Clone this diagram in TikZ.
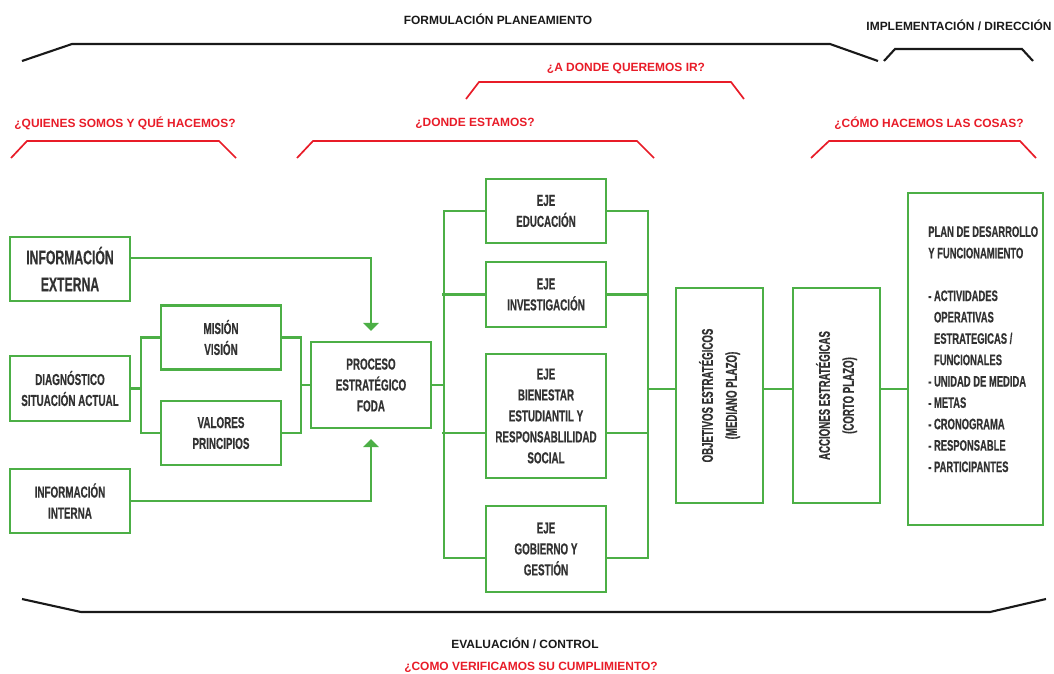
\documentclass[tikz,border=0pt]{standalone}
\usepackage{fontspec}
\setmainfont{Liberation Sans}
\newfontfamily\condfont[FakeStretch=0.62,FakeBold=0.5]{Liberation Sans}
\usetikzlibrary{arrows.meta}

\definecolor{boxgreen}{RGB}{76,175,70}
\definecolor{askred}{RGB}{232,28,40}
\definecolor{boxtext}{RGB}{50,50,50}

\begin{document}
\begin{tikzpicture}[x=0.025cm,y=-0.025cm,
  box/.style={draw=boxgreen, line width=1.5pt, text=boxtext, align=center,
    minimum width=3cm, minimum height=1.6cm, inner sep=2pt,
    font=\condfont\bfseries\fontsize{11.3}{14.9}\selectfont},
  sidetext/.style={rotate=90, align=center, text=boxtext, inner sep=0pt,
    font=\condfont\bfseries\fontsize{11.1}{17}\selectfont},
  listtext/.style={align=left, text=boxtext, inner sep=0pt,
    font=\condfont\bfseries\fontsize{10.8}{15.2}\selectfont},
  link/.style={draw=boxgreen, line width=1.5pt},
  feed/.style={link, -{Triangle[length=0.2cm,width=0.38cm]}, shorten >=0.25cm},
  phase/.style={font=\bfseries\fontsize{8.5}{10}\selectfont, text=black!90},
  ask/.style={font=\bfseries\fontsize{8.5}{10}\selectfont, text=askred},
  brace/.style={black!90, line width=1.5pt},
  askbrace/.style={askred, line width=1.2pt}]

\useasboundingbox (0,0) rectangle (1054,673);

\node[phase] (formul) at (498,19) {FORMULACIÓN PLANEAMIENTO};
\node[phase] (implem) at (959,25) {IMPLEMENTACIÓN / DIRECCIÓN};
\draw[brace] (22,61) -- (72,44) -- (830,44) -- (878,61);
\draw[brace] (884,61) -- (895,49) -- (1022,49) -- (1033,61);

\node[ask] (adonde) at (626,68) {¿A DONDE QUEREMOS IR?};
\draw[askbrace] (466,99) -- (479,82) -- (731,82) -- (744,99);
\node[ask] (quienes) at (125,123) {¿QUIENES SOMOS Y QUÉ HACEMOS?};
\draw[askbrace] (11,158) -- (27,141) -- (219,141) -- (236,158);
\node[ask] (estamos) at (475,123) {¿DONDE ESTAMOS?};
\draw[askbrace] (297,158) -- (313,141) -- (637,141) -- (654,158);
\node[ask] (como) at (929,123) {¿CÓMO HACEMOS LAS COSAS?};
\draw[askbrace] (811,158) -- (829,141) -- (1020,141) -- (1036,158);

\node[box, font=\condfont\bfseries\fontsize{14}{19.2}\selectfont] (infoext) at (70,269) {INFORMACIÓN\\EXTERNA};
\node[box, minimum height=1.625cm] (diag) at (70,388.5) {DIAGNÓSTICO\\SITUACIÓN ACTUAL};
\node[box] (infoint) at (70,501) {INFORMACIÓN\\INTERNA};
\node[box] (mision) at (221,337.5) {MISIÓN\\VISIÓN};
\node[box] (valores) at (221,433) {VALORES\\PRINCIPIOS};
\node[box, minimum height=2.15cm] (proceso) at (371,385) {PROCESO\\ESTRATÉGICO\\FODA};

\node[box] (edu) at (546,211) {EJE\\EDUCACIÓN};
\node[box, minimum height=1.625cm] (inv) at (546,294.5) {EJE\\INVESTIGACIÓN};
\node[box, minimum height=3.1cm] (bien) at (546,416) {EJE\\BIENESTAR\\ESTUDIANTIL Y\\RESPONSABLILIDAD\\SOCIAL};
\node[box, minimum height=2.15cm] (gob) at (546,549) {EJE\\GOBIERNO Y\\GESTIÓN};

\node[box, minimum width=2.175cm, minimum height=5.375cm] (objetivos) at (719.5,395.5) {};
\node[sidetext] (objtext) at (objetivos.center) {OBJETIVOS ESTRATÉGICOS\\(MEDIANO PLAZO)};
\node[box, minimum width=2.175cm, minimum height=5.375cm] (acciones) at (836.5,395.5) {};
\node[sidetext] (acctext) at (acciones.center) {ACCIONES ESTRATÉGICAS\\(CORTO PLAZO)};

\node[box, minimum width=3.375cm, minimum height=8.3cm] (plan) at (975.5,359) {};
\node[listtext, anchor=north west] (plantext) at (928,226) {PLAN DE DESARROLLO\\
Y FUNCIONAMIENTO\\[15.2pt]
- ACTIVIDADES\\
\phantom{-\ }OPERATIVAS\\
\phantom{-\ }ESTRATEGICAS /\\
\phantom{-\ }FUNCIONALES\\
- UNIDAD DE MEDIDA\\
- METAS\\
- CRONOGRAMA\\
- RESPONSABLE\\
- PARTICIPANTES};

\coordinate (ejebus) at (648,389);

\draw[feed] ([yshift=0.275cm]infoext.east) -| (proceso.north);
\draw[feed] (infoint.east) -| (proceso.south);
\draw[link] (diag.east) -- ++(10,0);
\draw[link] (mision.west) -| ([xshift=0.25cm]diag.east) |- (valores.west);
\draw[link] (mision.east) -| ([xshift=-0.225cm]proceso.west) |- (valores.east);
\draw[link] (proceso.west) -- ++(-9,0);

\draw[link] (proceso.east) -- ++(12,0);
\draw[link] (edu.west) -| ([xshift=0.3cm]proceso.east) |- ([yshift=-0.225cm]gob.west);
\draw[link] (inv.west) -- ++(-43,0);
\draw[link] ([yshift=-0.425cm]bien.west) -- ++(-43,0);

\draw[link] (edu.east) -| (ejebus) |- ([yshift=-0.225cm]gob.east);
\draw[link] (inv.east) -- (inv.east -| ejebus);
\draw[link] ([yshift=-0.425cm]bien.east) -- ++(42,0);
\draw[link] (ejebus) -- (ejebus -| objetivos.west);
\draw[link] (ejebus -| objetivos.east) -- (ejebus -| acciones.west);
\draw[link] (ejebus -| acciones.east) -- (ejebus -| plan.west);

\draw[brace] (22,599) -- (81,612) -- (990,612) -- (1046,599);
\node[phase] (evalua) at (525,643) {EVALUACIÓN / CONTROL};
\node[ask] (verifica) at (531,667) {¿COMO VERIFICAMOS SU CUMPLIMIENTO?};

\end{tikzpicture}
\end{document}
